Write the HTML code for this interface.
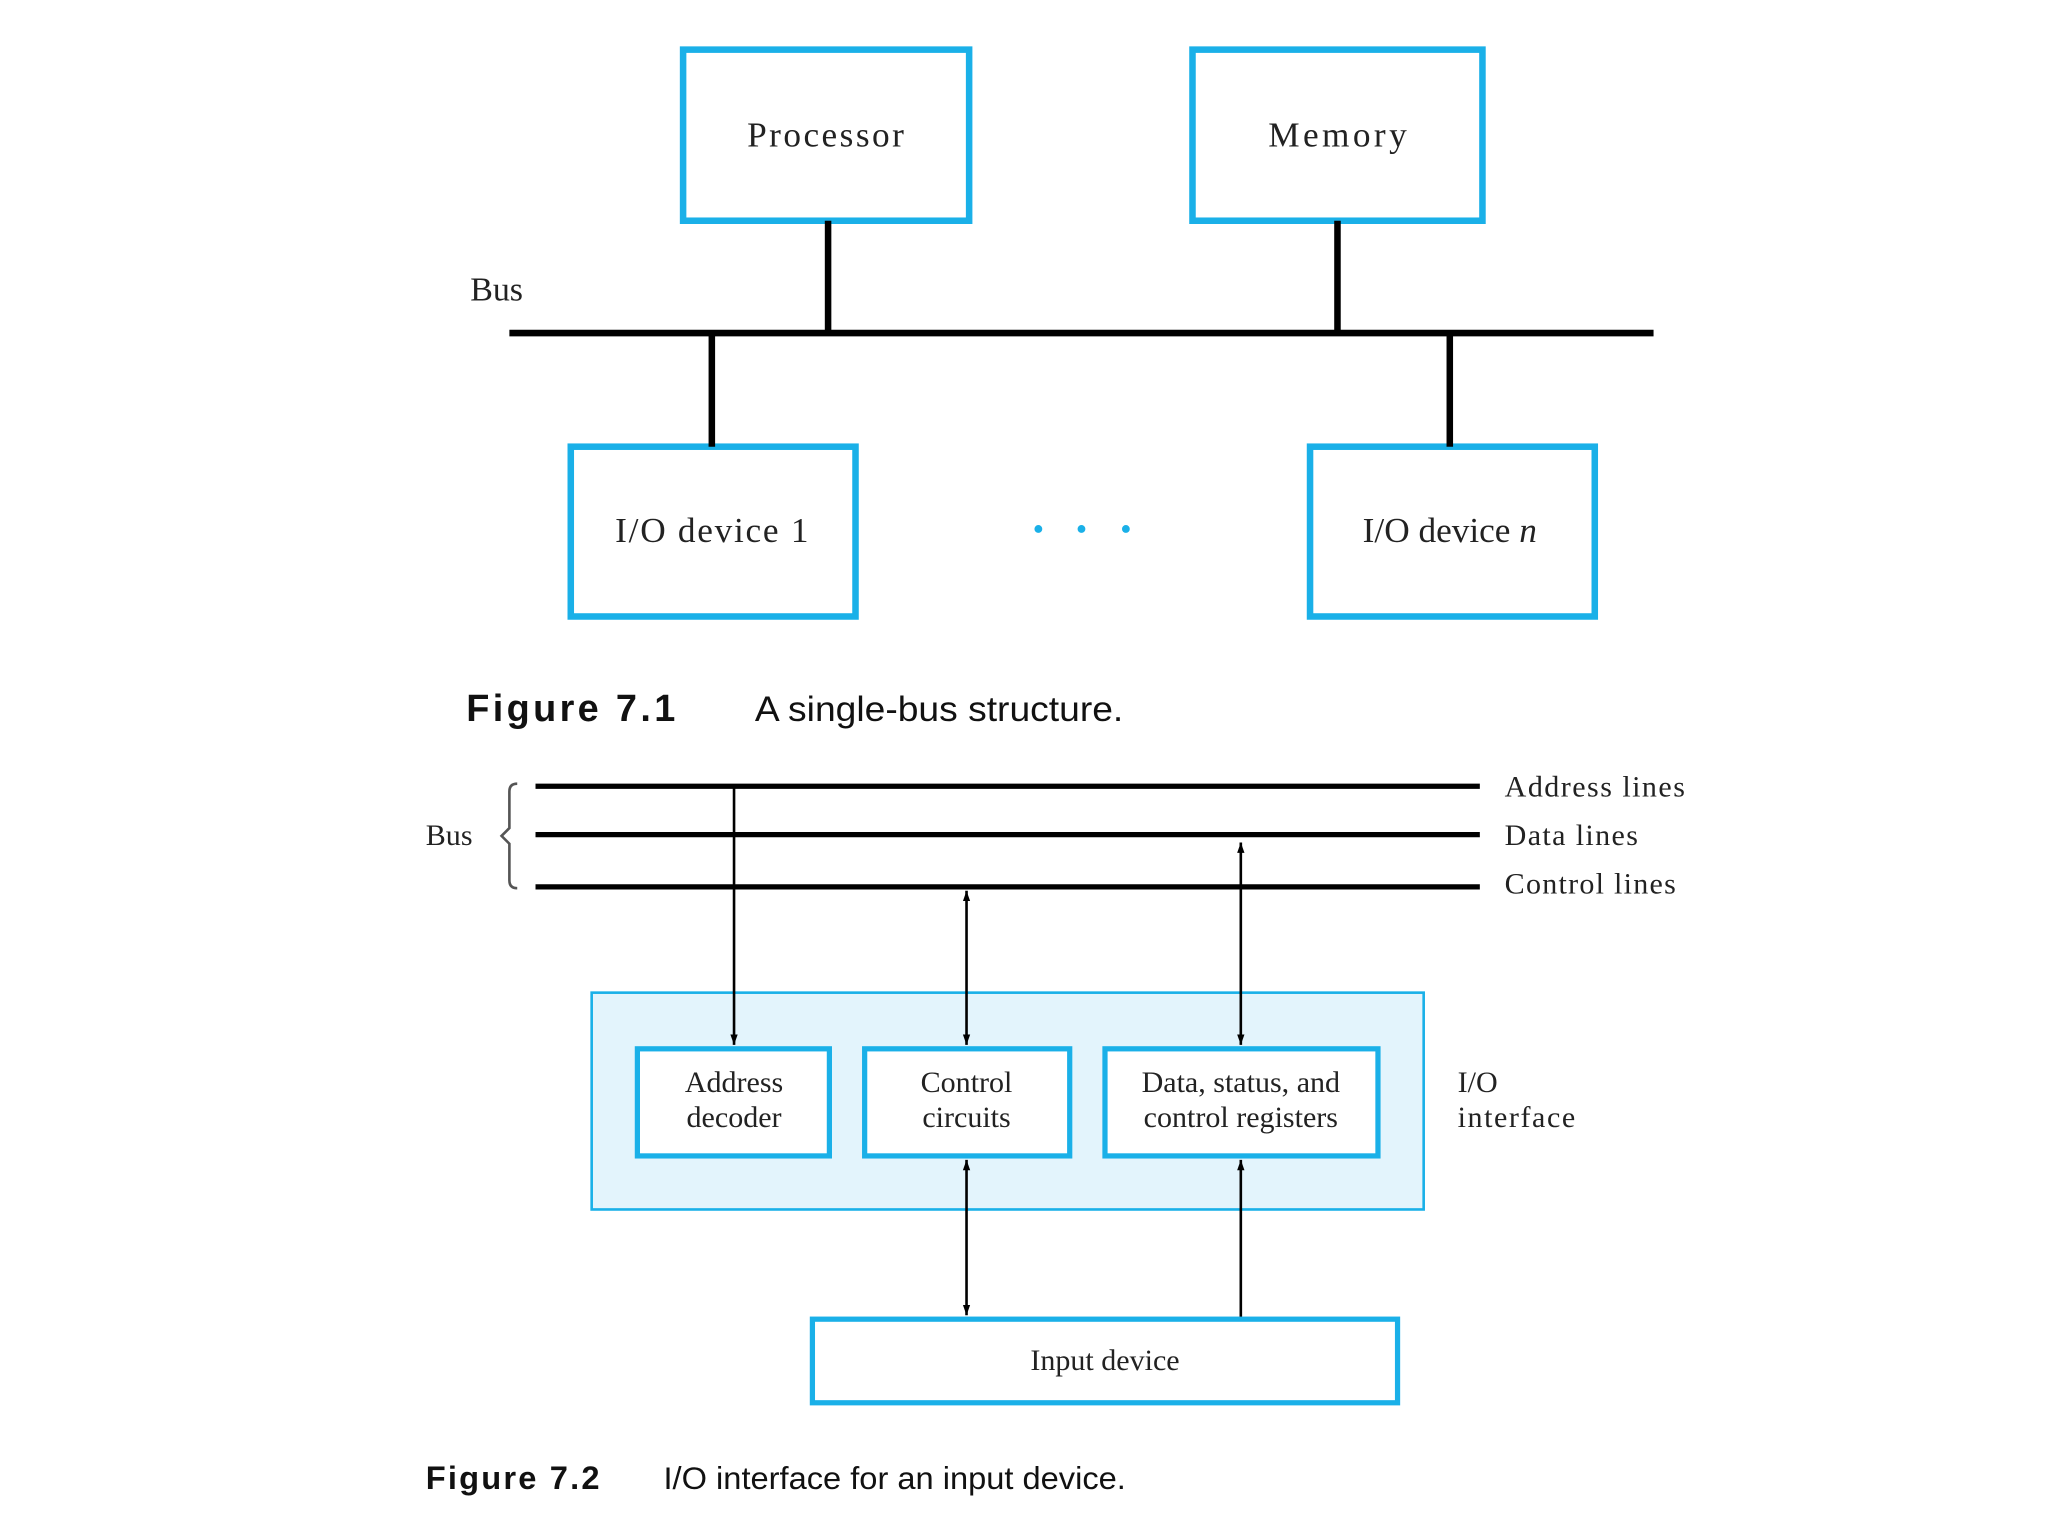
<!DOCTYPE html>
<html><head><meta charset="utf-8"><style>html,body{margin:0;padding:0;background:#fff}svg{display:block}</style></head>
<body>
<svg width="2048" height="1536" viewBox="0 0 1568 1176" preserveAspectRatio="none" xmlns="http://www.w3.org/2000/svg">
<defs>
<marker id="ah" viewBox="0 0 10 10" refX="10" refY="5" markerWidth="8" markerHeight="8" orient="auto-start-reverse" markerUnits="userSpaceOnUse"><path d="M0,1.5 L10,5 L0,8.5 Z" fill="#000"/></marker>
</defs>
<rect width="1568" height="1176" fill="#fff"/>
<g font-family="Liberation Serif, serif" fill="#222">
<g fill="none" stroke="#1ab0e8" stroke-width="5">
<rect x="523" y="38" width="219" height="131"/>
<rect x="913" y="38" width="222" height="131"/>
<rect x="437" y="342" width="218" height="130"/>
<rect x="1003" y="342" width="218" height="130"/>
</g>
<g stroke="#000" stroke-width="5">
<line x1="390" y1="255" x2="1266" y2="255"/>
<line x1="634" y1="169" x2="634" y2="255"/>
<line x1="1024" y1="169" x2="1024" y2="255"/>
<line x1="545" y1="255" x2="545" y2="342"/>
<line x1="1110" y1="255" x2="1110" y2="342"/>
</g>
<g font-size="27" text-anchor="middle">
<text x="632" y="112" textLength="120">Processor</text>
<text x="1024" y="112" textLength="106">Memory</text>
<text x="545" y="415" textLength="148">I/O device 1</text>
<text x="1110" y="415">I/O device <tspan font-style="italic">n</tspan></text>
</g>
<text x="360" y="230" font-size="26">Bus</text>
<g fill="#1ab0e8"><circle cx="795" cy="405" r="3"/><circle cx="828" cy="405" r="3"/><circle cx="862" cy="405" r="3"/></g>
<text x="357" y="552" font-family="Liberation Sans, sans-serif" font-weight="bold" font-size="29" fill="#111" textLength="160">Figure 7.1</text>
<text x="578" y="552" font-family="Liberation Sans, sans-serif" font-size="27" fill="#111" textLength="282" lengthAdjust="spacingAndGlyphs">A single-bus structure.</text>

<rect x="453" y="760" width="637" height="166" fill="#e3f4fc" stroke="#1ab0e8" stroke-width="2"/>
<g fill="#fff" stroke="#1ab0e8" stroke-width="4">
<rect x="488" y="803" width="147" height="82"/>
<rect x="662" y="803" width="157" height="82"/>
<rect x="846" y="803" width="209" height="82"/>
<rect x="622" y="1010" width="448" height="64"/>
</g>
<g stroke="#000" stroke-width="4">
<line x1="410" y1="602" x2="1133" y2="602"/>
<line x1="410" y1="639" x2="1133" y2="639"/>
<line x1="410" y1="679" x2="1133" y2="679"/>
</g>
<path d="M396,600 Q390,600 390,606 L390,634 L384,640 L390,646 L390,674 Q390,680 396,680" fill="none" stroke="#555" stroke-width="2"/>
<g stroke="#000" stroke-width="2" fill="none">
<line x1="562" y1="602" x2="562" y2="800" marker-end="url(#ah)"/>
<line x1="740" y1="682" x2="740" y2="800" marker-start="url(#ah)" marker-end="url(#ah)"/>
<line x1="950" y1="645" x2="950" y2="800" marker-start="url(#ah)" marker-end="url(#ah)"/>
<line x1="740" y1="888" x2="740" y2="1007" marker-start="url(#ah)" marker-end="url(#ah)"/>
<line x1="950" y1="1008" x2="950" y2="888" marker-end="url(#ah)"/>
</g>
<g font-size="23">
<text x="326" y="647">Bus</text>
<text x="1152" y="610" textLength="138">Address lines</text>
<text x="1152" y="647" textLength="102">Data lines</text>
<text x="1152" y="684" textLength="131">Control lines</text>
<text x="1116" y="836">I/O</text>
<text x="1116" y="863" textLength="90">interface</text>
</g>
<g font-size="23" text-anchor="middle">
<text x="562" y="836">Address</text>
<text x="562" y="863">decoder</text>
<text x="740" y="836">Control</text>
<text x="740" y="863">circuits</text>
<text x="950" y="836">Data, status, and</text>
<text x="950" y="863">control registers</text>
<text x="846" y="1049">Input device</text>
</g>
<text x="326" y="1140" font-family="Liberation Sans, sans-serif" font-weight="bold" font-size="25" fill="#111" textLength="133">Figure 7.2</text>
<text x="508" y="1140" font-family="Liberation Sans, sans-serif" font-size="24" fill="#111" textLength="354" lengthAdjust="spacingAndGlyphs">I/O interface for an input device.</text>
</g>
</svg>
</body></html>
